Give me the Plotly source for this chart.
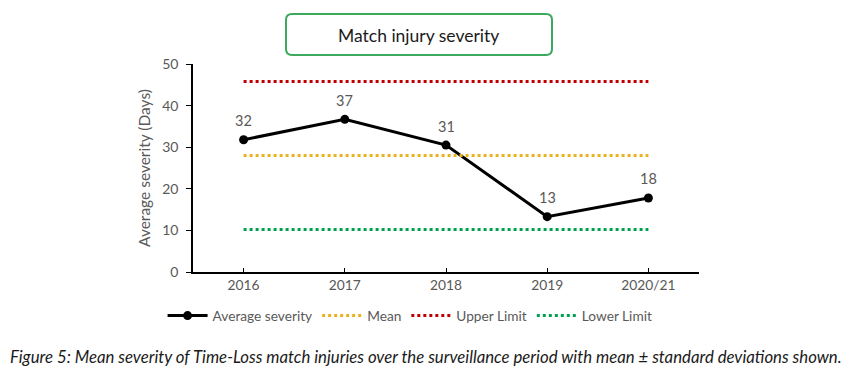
import plotly.graph_objects as go

categories = ["2016", "2017", "2018", "2019", "2020/21"]
avg_severity = [31.8, 36.7, 30.5, 13.3, 17.8]
avg_labels = ["32", "37", "31", "13", "18"]
mean_value = [28.0] * 5
upper_limit = [45.8] * 5
lower_limit = [10.2] * 5
y_ticks = [0, 10, 20, 30, 40, 50]

xpos = list(range(len(categories)))
FONT = "Lato, Carlito, 'Open Sans', sans-serif"
GRAY = "#595959"

fig = go.Figure()
fig.add_trace(go.Scatter(
    x=xpos, y=avg_severity, mode="lines+markers", name="Average severity",
    line=dict(color="black", width=3), marker=dict(color="black", size=9),
))
fig.add_trace(go.Scatter(
    x=xpos, y=mean_value, mode="lines", name="Mean",
    line=dict(color="#EBB220", width=3, dash="dot"),
))
fig.add_trace(go.Scatter(
    x=xpos, y=upper_limit, mode="lines", name="Upper Limit",
    line=dict(color="#C00000", width=3, dash="dot"),
))
fig.add_trace(go.Scatter(
    x=xpos, y=lower_limit, mode="lines", name="Lower Limit",
    line=dict(color="#00A050", width=3, dash="dot"),
))

for xv, yv, lab in zip(xpos, avg_severity, avg_labels):
    fig.add_annotation(x=xv, y=yv, text=lab, showarrow=False, yshift=19,
                       yanchor="middle", font=dict(size=14.5, color=GRAY, family=FONT))

# rounded title box
x0, x1, y0, y1 = 0.1838, 0.7095, 1.0433, 1.2404
rx, ry = 0.0119, 0.0288
path = (f"M {x0+rx},{y0} L {x1-rx},{y0} Q {x1},{y0} {x1},{y0+ry} "
        f"L {x1},{y1-ry} Q {x1},{y1} {x1-rx},{y1} L {x0+rx},{y1} "
        f"Q {x0},{y1} {x0},{y1-ry} L {x0},{y0+ry} Q {x0},{y0} {x0+rx},{y0} Z")
fig.add_shape(type="path", path=path, xref="paper", yref="paper",
              line=dict(color="#3BAA5C", width=2), fillcolor="white")

fig.add_annotation(text="Match injury severity", xref="paper", yref="paper",
                   x=0.4466, y=1.139, xanchor="center", yanchor="middle",
                   showarrow=False, font=dict(size=17.5, color="#1a1a1a", family=FONT))

fig.add_annotation(
    text="<i>Figure 5: Mean severity of Time-Loss match injuries over the surveillance period with mean ± standard deviations shown.</i>",
    xref="paper", yref="paper", x=-0.3656, y=-0.404, xanchor="left", yanchor="middle",
    showarrow=False, font=dict(size=16.75, color="#1a1a1a", family=FONT))

fig.update_layout(
    width=846, height=372,
    margin=dict(l=193, r=147, t=64, b=100),
    paper_bgcolor="white", plot_bgcolor="white",
    font=dict(family=FONT, color=GRAY, size=14),
    showlegend=True,
    legend=dict(orientation="h", x=0.429, xanchor="center", y=-0.21, yanchor="middle",
                font=dict(size=13.7, color=GRAY, family=FONT), itemwidth=40,
                tracegroupgap=0, bgcolor="rgba(0,0,0,0)"),
    xaxis=dict(range=[-0.5, 4.5], tickvals=xpos + [4.5], ticktext=categories + [""],
               showline=True, linecolor="black", linewidth=1.5,
               ticks="inside", ticklen=4, tickcolor="black",
               showgrid=False, zeroline=False,
               tickfont=dict(size=13.8, color=GRAY, family=FONT)),
    yaxis=dict(range=[0, 50], tickvals=y_ticks, showline=True, linecolor="black",
               linewidth=1.5, ticks="outside", ticklen=5, tickcolor="black",
               ticklabelstandoff=5,
               showgrid=False, zeroline=False,
               title=dict(text="Average severity (Days)", standoff=8,
                          font=dict(size=15.5, color=GRAY, family=FONT)),
               tickfont=dict(size=14, color=GRAY, family=FONT)),
)

fig.write_html("out.html", config={"displayModeBar": False},
               post_script="document.body.style.margin='0';")
